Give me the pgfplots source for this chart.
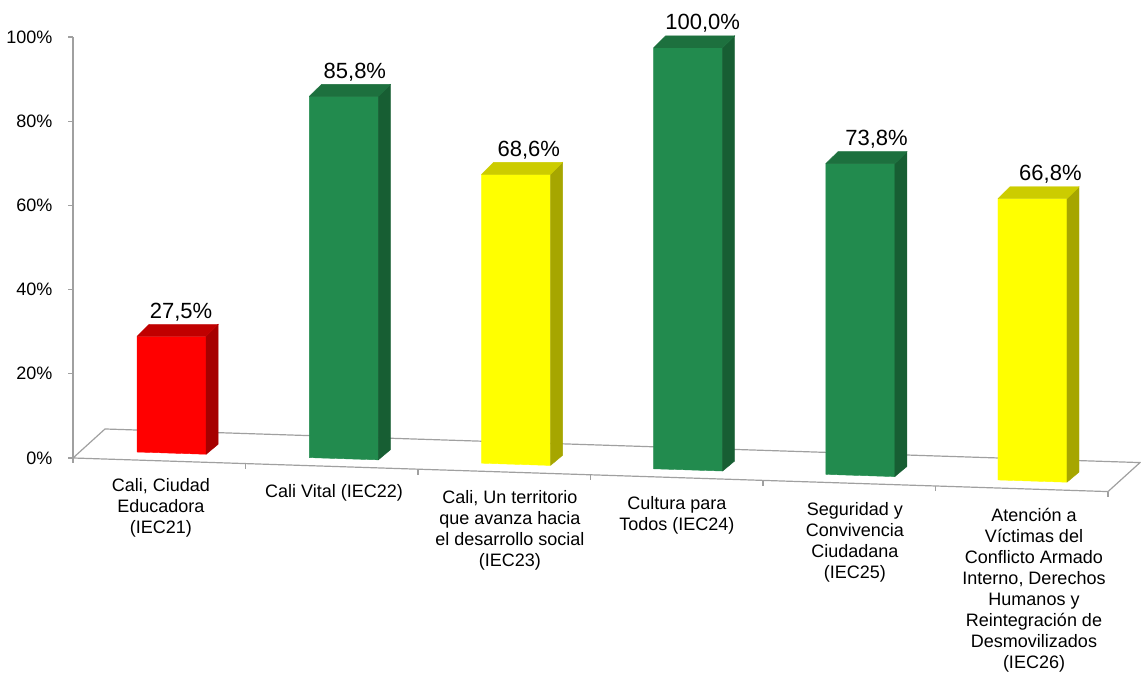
\documentclass[border=0pt]{standalone}
\usepackage{fontspec}
\setmainfont{Liberation Sans}
\usepackage{pgfplots}
\usepackage{pgfplotstable}
\pgfplotsset{compat=1.18}

\definecolor{rfront}{RGB}{255,0,0}
\definecolor{rside}{RGB}{166,0,0}
\definecolor{rtop}{RGB}{192,0,0}
\definecolor{gfront}{RGB}{34,139,78}
\definecolor{gside}{RGB}{23,94,51}
\definecolor{gtop}{RGB}{29,112,62}
\definecolor{yfront}{RGB}{255,255,0}
\definecolor{yside}{RGB}{166,166,0}
\definecolor{ytop}{RGB}{204,204,0}
\definecolor{axisgray}{RGB}{160,160,160}

% i = category index, v = value (%), c = colour (r/g/y)
\pgfplotstableread{
i v c
0 27.5 r
1 85.8 g
2 68.6 y
3 100.0 g
4 73.8 g
5 66.8 y
}\datatable

% 3D-looking bar: #1 index, #2 value, #3 colour prefix
\newcommand\threedbar[3]{%
  \pgfmathsetmacro\bXl{0.372+0.998*#1}%
  \pgfmathsetmacro\bXr{\bXl+0.40}%
  \pgfmathsetmacro\bXbr{\bXr+0.07}%
  \pgfmathsetmacro\bXbl{\bXl+0.07}%
  \pgfmathsetmacro\bYbl{1.91-1.33*\bXl}%
  \pgfmathsetmacro\bYbr{1.91-1.33*\bXr}%
  \pgfmathsetmacro\bYsb{\bYbr+2.4}%
  \pgfmathsetmacro\bYt{\bYbl+#2}%
  \pgfmathsetmacro\bYtb{\bYt+2.85}%
  \edef\doplot{%
    \noexpand\addplot[fill=#3front, draw=#3front, line width=0.2pt] coordinates {(\bXl,\bYbl) (\bXr,\bYbr) (\bXr,\bYt) (\bXl,\bYt) (\bXl,\bYbl)};
    \noexpand\addplot[fill=#3side, draw=#3side, line width=0.2pt] coordinates {(\bXr,\bYbr) (\bXbr,\bYsb) (\bXbr,\bYtb) (\bXr,\bYt) (\bXr,\bYbr)};
    \noexpand\addplot[fill=#3top, draw=#3top, line width=0.2pt] coordinates {(\bXl,\bYt) (\bXr,\bYt) (\bXbr,\bYtb) (\bXbl,\bYtb) (\bXl,\bYt)};
  }\doplot
}

\begin{document}
\begin{tikzpicture}
\begin{axis}[
  scale only axis, width=570.5pt, height=336.5pt,
  xmin=-0.42319, xmax=6.19130, ymin=-51.069, ymax=108.789,
  enlargelimits=false, clip=false,
  axis x line=bottom, axis y line=left, axis line style={draw=none},
  tick style={draw=none},
  ytick={0,20,40,60,80,100},
  yticklabels={0\%,20\%,40\%,60\%,80\%,100\%},
  yticklabel style={anchor=east, inner sep=0pt, xshift=28.5pt, font=\fontsize{9}{11}\selectfont},
  xtick={0.510,1.513,2.533,3.501,4.533,5.571},
  xticklabels={
    {Cali, Ciudad\\Educadora\\(IEC21)},
    {Cali Vital (IEC22)},
    {Cali, Un territorio\\que avanza hacia\\el desarrollo social\\(IEC23)},
    {Cultura para\\Todos (IEC24)},
    {Seguridad y\\Convivencia\\Ciudadana\\(IEC25)},
    {Atención a\\Víctimas del\\Conflicto Armado\\Interno, Derechos\\Humanos y\\Reintegración de\\Desmovilizados\\(IEC26)}},
  xticklabel style={anchor=north, align=center, inner sep=0pt, yshift={99.5pt-3pt*\ticknum}, font=\fontsize{9}{10.5}\selectfont},
]
% floor
\addplot[axisgray, line width=0.6pt] coordinates {(0,0) (6,-7.98) (6.1855,-1.09) (0.1855,6.89) (0,0)};
% y axis line and ticks
\addplot[axisgray, line width=0.6pt] coordinates {(0,0) (0,100)};
\addplot[axisgray, line width=0.6pt, xcomb] coordinates {(-0.029,0) (-0.029,20) (-0.029,40) (-0.029,60) (-0.029,80) (-0.029,100)};
% x ticks along the sloped front edge
\addplot[axisgray, line width=0.6pt, unbounded coords=jump] coordinates {(0,0) (0,-1.3) (0,nan) (1,-1.33) (1,-2.63) (1,nan) (2,-2.66) (2,-3.96) (2,nan) (3,-3.99) (3,-5.29) (3,nan) (4,-5.32) (4,-6.62) (4,nan) (5,-6.65) (5,-7.95) (5,nan) (6,-7.98) (6,-9.28)};
% bars
\pgfplotsforeachungrouped \k in {0,...,5}{%
  \pgfplotstablegetelem{\k}{v}\of\datatable \let\val\pgfplotsretval
  \pgfplotstablegetelem{\k}{c}\of\datatable \let\col\pgfplotsretval
  \threedbar{\k}{\val}{\col}%
}
% value labels
\addplot[draw=none, mark=none, point meta=explicit,
  nodes near coords={\pgfmathprintnumber[fixed,fixed zerofill,precision=1,use comma,assume math mode=true]{\pgfplotspointmeta}\%},
  every node near coord/.append style={anchor=south, inner sep=0pt, text=black, font=\fontsize{11}{13}\selectfont}]
  table[x expr={0.626+1.008*\thisrow{i}}, y expr={\thisrow{v}+1.91-1.33*(0.372+0.998*\thisrow{i})+2.85+0.7}, meta=v] {\datatable};
\coordinate (BL) at (rel axis cs:0,0);
\coordinate (TR) at (rel axis cs:1,1);
\end{axis}
\pgfresetboundingbox
\path[use as bounding box] (BL) rectangle (TR);
\end{tikzpicture}
\end{document}
